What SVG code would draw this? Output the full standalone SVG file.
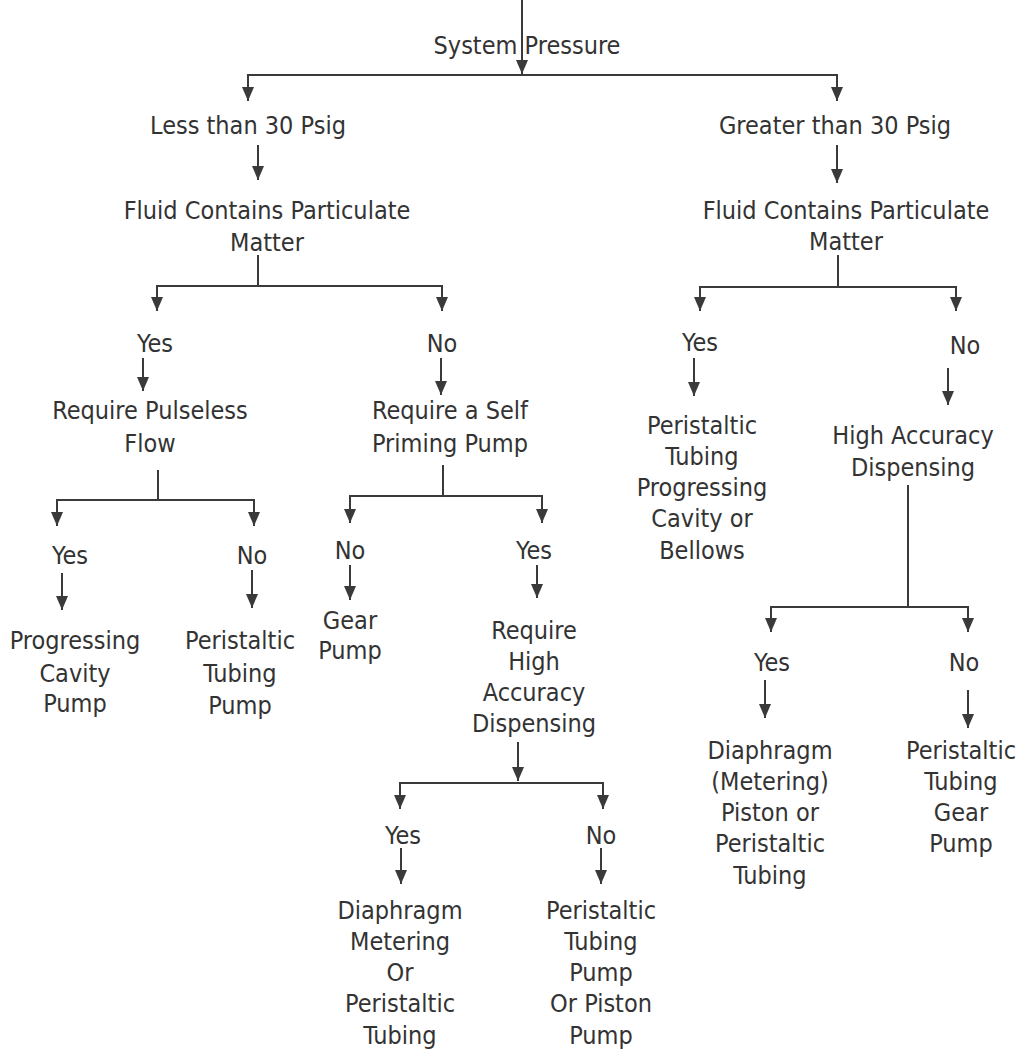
<svg xmlns="http://www.w3.org/2000/svg" width="1020" height="1052" viewBox="0 0 1020 1052">
<style>
text{font-family:'DejaVu Sans Condensed','Liberation Sans Narrow',sans-serif;font-size:25px;fill:#333;text-anchor:middle}
.c line,.c path{stroke:#3a3a3a;stroke-width:2;fill:none}
</style>
<defs>
<marker id="ad" markerUnits="userSpaceOnUse" markerWidth="14" markerHeight="12" refX="14" refY="6" orient="auto" viewBox="0 0 14 12">
<path d="M0,0 L14,6 L0,12 Z" fill="#3a3a3a"/>
</marker>
</defs>
<rect width="1020" height="1052" fill="#fff"/>
<g class="c" id="connectors">
<line x1="522" y1="0" x2="522" y2="74" marker-end="url(#ad)"/>
<path d="M248,101 V75 H837 V101"/>
<line x1="248" y1="88" x2="248" y2="101" marker-end="url(#ad)"/>
<line x1="837" y1="88" x2="837" y2="101" marker-end="url(#ad)"/>
<line x1="258" y1="145" x2="258" y2="180" marker-end="url(#ad)"/>
<line x1="837" y1="145" x2="837" y2="183" marker-end="url(#ad)"/>
<path d="M258,255 V286 M157,310 V286 H442 V310"/>
<line x1="157" y1="296" x2="157" y2="311" marker-end="url(#ad)"/>
<line x1="442" y1="296" x2="442" y2="311" marker-end="url(#ad)"/>
<line x1="143" y1="358" x2="143" y2="391" marker-end="url(#ad)"/>
<line x1="441" y1="358" x2="441" y2="395" marker-end="url(#ad)"/>
<path d="M838,255 V287 M700,310 V287 H956 V310"/>
<line x1="700" y1="296" x2="700" y2="311" marker-end="url(#ad)"/>
<line x1="956" y1="296" x2="956" y2="311" marker-end="url(#ad)"/>
<line x1="694" y1="358" x2="694" y2="396" marker-end="url(#ad)"/>
<line x1="948" y1="368" x2="948" y2="405" marker-end="url(#ad)"/>
<path d="M158,470 V500 M57,525 V500 H254 V525"/>
<line x1="57" y1="512" x2="57" y2="526" marker-end="url(#ad)"/>
<line x1="254" y1="512" x2="254" y2="526" marker-end="url(#ad)"/>
<line x1="62" y1="573" x2="62" y2="610" marker-end="url(#ad)"/>
<line x1="252" y1="570" x2="252" y2="608" marker-end="url(#ad)"/>
<path d="M443,465 V496 M350,522 V496 H542 V522"/>
<line x1="350" y1="508" x2="350" y2="523" marker-end="url(#ad)"/>
<line x1="542" y1="508" x2="542" y2="523" marker-end="url(#ad)"/>
<line x1="350" y1="565" x2="350" y2="600" marker-end="url(#ad)"/>
<line x1="537" y1="565" x2="537" y2="598" marker-end="url(#ad)"/>
<line x1="518" y1="742" x2="518" y2="781" marker-end="url(#ad)"/>
<path d="M400,808 V783 H603 V808"/>
<line x1="400" y1="795" x2="400" y2="809" marker-end="url(#ad)"/>
<line x1="603" y1="795" x2="603" y2="809" marker-end="url(#ad)"/>
<line x1="401" y1="848" x2="401" y2="884" marker-end="url(#ad)"/>
<line x1="601" y1="848" x2="601" y2="884" marker-end="url(#ad)"/>
<path d="M908,485 V607 M771,631 V607 H968 V631"/>
<line x1="771" y1="618" x2="771" y2="632" marker-end="url(#ad)"/>
<line x1="968" y1="618" x2="968" y2="632" marker-end="url(#ad)"/>
<line x1="765" y1="680" x2="765" y2="718" marker-end="url(#ad)"/>
<line x1="968" y1="690" x2="968" y2="728" marker-end="url(#ad)"/>
</g>
<g id="n-system"><text x="527" y="54">System Pressure</text></g>
<g id="n-less"><text x="248" y="134">Less than 30 Psig</text></g>
<g id="n-greater"><text x="835" y="134">Greater than 30 Psig</text></g>
<g id="n-fluid-l"><text x="267" y="219">Fluid Contains Particulate</text><text x="267" y="251">Matter</text></g>
<g id="n-fluid-r"><text x="846" y="219">Fluid Contains Particulate</text><text x="846" y="250">Matter</text></g>
<g id="n-yes-l1"><text x="155" y="352">Yes</text></g>
<g id="n-no-l1"><text x="442" y="352">No</text></g>
<g id="n-yes-r1"><text x="700" y="351">Yes</text></g>
<g id="n-no-r1"><text x="965" y="354">No</text></g>
<g id="n-pulseless"><text x="150" y="419">Require Pulseless</text><text x="150" y="452">Flow</text></g>
<g id="n-selfprime"><text x="450" y="419">Require a Self</text><text x="450" y="452">Priming Pump</text></g>
<g id="n-peri-prog"><text x="702" y="434">Peristaltic</text><text x="702" y="465">Tubing</text><text x="702" y="496">Progressing</text><text x="702" y="527">Cavity or</text><text x="702" y="559">Bellows</text></g>
<g id="n-highacc-r"><text x="913" y="444">High Accuracy</text><text x="913" y="476">Dispensing</text></g>
<g id="n-yes-pl"><text x="70" y="564">Yes</text></g>
<g id="n-no-pl"><text x="252" y="564">No</text></g>
<g id="n-no-sp"><text x="350" y="559">No</text></g>
<g id="n-yes-sp"><text x="534" y="559">Yes</text></g>
<g id="n-progcav"><text x="75" y="649">Progressing</text><text x="75" y="682">Cavity</text><text x="75" y="712">Pump</text></g>
<g id="n-peritube"><text x="240" y="649">Peristaltic</text><text x="240" y="682">Tubing</text><text x="240" y="714">Pump</text></g>
<g id="n-gear"><text x="350" y="629">Gear</text><text x="350" y="659">Pump</text></g>
<g id="n-reqhigh"><text x="534" y="639">Require</text><text x="534" y="670">High</text><text x="534" y="701">Accuracy</text><text x="534" y="732">Dispensing</text></g>
<g id="n-yes-rh"><text x="403" y="844">Yes</text></g>
<g id="n-no-rh"><text x="601" y="844">No</text></g>
<g id="n-diaph-l"><text x="400" y="919">Diaphragm</text><text x="400" y="950">Metering</text><text x="400" y="981">Or</text><text x="400" y="1012">Peristaltic</text><text x="400" y="1044">Tubing</text></g>
<g id="n-peri-piston"><text x="601" y="919">Peristaltic</text><text x="601" y="950">Tubing</text><text x="601" y="981">Pump</text><text x="601" y="1012">Or Piston</text><text x="601" y="1044">Pump</text></g>
<g id="n-yes-ha"><text x="772" y="671">Yes</text></g>
<g id="n-no-ha"><text x="964" y="671">No</text></g>
<g id="n-diaph-r"><text x="770" y="759">Diaphragm</text><text x="770" y="790">(Metering)</text><text x="770" y="821">Piston or</text><text x="770" y="852">Peristaltic</text><text x="770" y="884">Tubing</text></g>
<g id="n-peri-gear"><text x="961" y="759">Peristaltic</text><text x="961" y="790">Tubing</text><text x="961" y="821">Gear</text><text x="961" y="852">Pump</text></g>
</svg>
